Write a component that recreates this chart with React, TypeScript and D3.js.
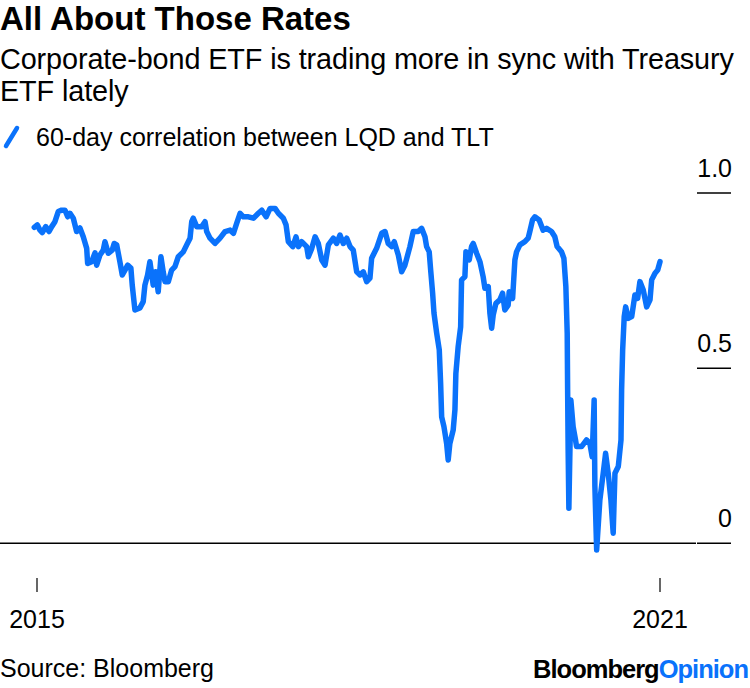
import React from "react";
import * as d3 from "d3";

// Decimal-year positions of the traced points
const times: number[] = [
  2014.974, 2015.003, 2015.029, 2015.051, 2015.084, 2015.116, 2015.142, 2015.173, 2015.205, 2015.238,
  2015.27, 2015.296, 2015.318, 2015.35, 2015.382, 2015.414, 2015.446, 2015.479, 2015.488, 2015.527,
  2015.559, 2015.575, 2015.607, 2015.639, 2015.655, 2015.687, 2015.725, 2015.744, 2015.768, 2015.799,
  2015.822, 2015.848, 2015.874, 2015.905, 2015.918, 2015.944, 2015.992, 2016.024, 2016.04, 2016.066,
  2016.088, 2016.12, 2016.143, 2016.168, 2016.194, 2016.216, 2016.233, 2016.265, 2016.297, 2016.329,
  2016.361, 2016.409, 2016.442, 2016.474, 2016.49, 2016.505, 2016.538, 2016.586, 2016.618, 2016.634,
  2016.666, 2016.714, 2016.762, 2016.811, 2016.859, 2016.891, 2016.923, 2016.955, 2016.987, 2017.035,
  2017.083, 2017.131, 2017.164, 2017.206, 2017.244, 2017.292, 2017.324, 2017.372, 2017.398, 2017.42,
  2017.463, 2017.494, 2017.517, 2017.549, 2017.597, 2017.613, 2017.646, 2017.678, 2017.709, 2017.742,
  2017.774, 2017.806, 2017.854, 2017.886, 2017.918, 2017.95, 2017.983, 2018.015, 2018.046, 2018.079,
  2018.111, 2018.143, 2018.175, 2018.207, 2018.223, 2018.271, 2018.32, 2018.352, 2018.383, 2018.416,
  2018.441, 2018.48, 2018.512, 2018.544, 2018.592, 2018.624, 2018.672, 2018.705, 2018.737, 2018.753,
  2018.778, 2018.792, 2018.811, 2018.824, 2018.85, 2018.875, 2018.888, 2018.898, 2018.92, 2018.946,
  2018.961, 2018.977, 2019.009, 2019.026, 2019.035, 2019.057, 2019.081, 2019.09, 2019.122, 2019.132,
  2019.164, 2019.186, 2019.202, 2019.235, 2019.267, 2019.298, 2019.315, 2019.347, 2019.363, 2019.38,
  2019.395, 2019.421, 2019.459, 2019.485, 2019.507, 2019.539, 2019.549, 2019.582, 2019.604, 2019.62,
  2019.652, 2019.7, 2019.732, 2019.748, 2019.774, 2019.796, 2019.838, 2019.876, 2019.909, 2019.957,
  2019.989, 2020.011, 2020.053, 2020.076, 2020.095, 2020.108, 2020.112, 2020.117, 2020.124, 2020.143,
  2020.165, 2020.188, 2020.198, 2020.246, 2020.294, 2020.326, 2020.348, 2020.367, 2020.374, 2020.391,
  2020.422, 2020.454, 2020.477, 2020.502, 2020.528, 2020.55, 2020.567, 2020.599, 2020.625, 2020.631,
  2020.641, 2020.656, 2020.67, 2020.695, 2020.728, 2020.759, 2020.785, 2020.807, 2020.839, 2020.872,
  2020.904, 2020.92, 2020.952, 2020.978, 2021.0,
];

// 60-day correlation between LQD and TLT
const correlation: number[] = [
  0.902, 0.909, 0.894, 0.887, 0.904, 0.89, 0.904, 0.918, 0.947, 0.951,
  0.951, 0.932, 0.942, 0.928, 0.89, 0.9, 0.875, 0.842, 0.799, 0.804,
  0.829, 0.794, 0.823, 0.837, 0.861, 0.828, 0.837, 0.856, 0.852, 0.804,
  0.766, 0.78, 0.794, 0.786, 0.737, 0.666, 0.672, 0.69, 0.737, 0.766,
  0.804, 0.737, 0.775, 0.718, 0.818, 0.775, 0.747, 0.747, 0.78, 0.79,
  0.818, 0.832, 0.852, 0.871, 0.918, 0.928, 0.904, 0.904, 0.918, 0.89,
  0.871, 0.856, 0.871, 0.89, 0.894, 0.885, 0.914, 0.942, 0.932, 0.932,
  0.928, 0.942, 0.951, 0.932, 0.956, 0.956, 0.942, 0.928, 0.909, 0.861,
  0.847, 0.875, 0.847, 0.861, 0.847, 0.818, 0.842, 0.875, 0.856, 0.809,
  0.794, 0.852, 0.871, 0.856, 0.88, 0.856, 0.871, 0.847, 0.837, 0.775,
  0.766, 0.775, 0.747, 0.757, 0.814, 0.842, 0.885, 0.89, 0.856, 0.847,
  0.861, 0.823, 0.775, 0.794, 0.847, 0.89, 0.89, 0.899, 0.875, 0.847,
  0.832, 0.78, 0.714, 0.657, 0.6, 0.552, 0.457, 0.361, 0.333, 0.285,
  0.238, 0.285, 0.323, 0.381, 0.485, 0.561, 0.618, 0.752, 0.761, 0.832,
  0.809, 0.847, 0.856, 0.828, 0.804, 0.761, 0.728, 0.733, 0.657, 0.614,
  0.652, 0.685, 0.695, 0.714, 0.666, 0.68, 0.718, 0.699, 0.809, 0.832,
  0.852, 0.861, 0.871, 0.89, 0.923, 0.932, 0.923, 0.894, 0.899, 0.89,
  0.875, 0.847, 0.832, 0.814, 0.733, 0.6, 0.438, 0.266, 0.1, 0.409,
  0.333, 0.295, 0.276, 0.276, 0.295, 0.285, 0.247, 0.409, 0.162, -0.019,
  0.124, 0.2, 0.257, 0.2, 0.124, 0.029, 0.2, 0.219, 0.295, 0.438,
  0.552, 0.647, 0.675, 0.642, 0.647, 0.709, 0.699, 0.747, 0.723, 0.675,
  0.695, 0.752, 0.771, 0.78, 0.804,
];

const yTicks: number[] = [0, 0.5, 1.0];
const yTickLabels: string[] = ["0", "0.5", "1.0"];
const xTickYears: number[] = [2015, 2021];

const title = "All About Those Rates";
const subtitleLines = ["Corporate-bond ETF is trading more in sync with Treasury", "ETF lately"];
const legendLabel = "60-day correlation between LQD and TLT";
const source = "Source: Bloomberg";

const BLUE = "#0a72fb";
const FONT = "'Liberation Sans', Arial, Helvetica, sans-serif";

function toDate(t: number): Date {
  const y = Math.floor(t);
  const start = new Date(y, 0, 1).getTime();
  const end = new Date(y + 1, 0, 1).getTime();
  return new Date(start + (t - y) * (end - start));
}

export default function App() {
  const W = 750;
  const H = 688;
  const x = d3.scaleTime().domain([new Date(2015, 0, 1), new Date(2021, 0, 1)]).range([37, 660]);
  const y = d3.scaleLinear().domain([0, 1]).range([543.3, 193]);

  const data = times.map((t, i) => ({ d: toDate(t), v: correlation[i] }));
  const line = d3
    .line<{ d: Date; v: number }>()
    .x((p) => x(p.d))
    .y((p) => y(p.v))
    .curve(d3.curveLinear);

  return (
    <svg
      width={W}
      height={H}
      style={{ position: "absolute", left: 0, top: 0, background: "#fff" }}
      fontFamily={FONT}
    >
      <rect width={W} height={H} fill="#fff" />
      <text x={0} y={30} fontSize={33} fontWeight="bold" fill="#000" letterSpacing={0}>
        {title}
      </text>
      {subtitleLines.map((s, i) => (
        <text key={i} x={0} y={69 + i * 32} fontSize={28.8} fill="#000" letterSpacing={-0.1}>
          {s}
        </text>
      ))}
      <line x1={6} y1={146} x2={17} y2={128} stroke={BLUE} strokeWidth={4.5} strokeLinecap="round" />
      <text x={36} y={146} fontSize={25} fill="#000">
        {legendLabel}
      </text>

      {/* y axis ticks on right */}
      {yTicks.map((t, i) => (
        <g key={t}>
          <line x1={697} x2={731} y1={y(t)} y2={y(t)} stroke="#000" strokeWidth={1.5} />
          <text x={732} y={y(t) - 16} fontSize={25} textAnchor="end" fill="#000">
            {yTickLabels[i]}
          </text>
        </g>
      ))}
      {/* zero baseline */}
      <line x1={0} x2={696} y1={y(0)} y2={y(0)} stroke="#000" strokeWidth={1.5} />

      {/* x ticks */}
      {xTickYears.map((yr) => {
        const xp = x(new Date(yr, 0, 1));
        return (
          <g key={yr}>
            <line x1={xp} x2={xp} y1={578} y2={592} stroke="#000" strokeWidth={1.2} />
            <text x={xp} y={628} fontSize={25} textAnchor="middle" fill="#000">
              {String(yr)}
            </text>
          </g>
        );
      })}

      <path
        d={line(data) || ""}
        fill="none"
        stroke={BLUE}
        strokeWidth={5.5}
        strokeLinejoin="round"
        strokeLinecap="round"
      />

      <text x={0} y={677} fontSize={25} fill="#000">
        {source}
      </text>
      <text x={748} y={678} fontSize={25.5} fontWeight="bold" textAnchor="end" letterSpacing={-1}>
        <tspan fill="#000">Bloomberg</tspan>
        <tspan fill={BLUE}>Opinion</tspan>
      </text>
    </svg>
  );
}
